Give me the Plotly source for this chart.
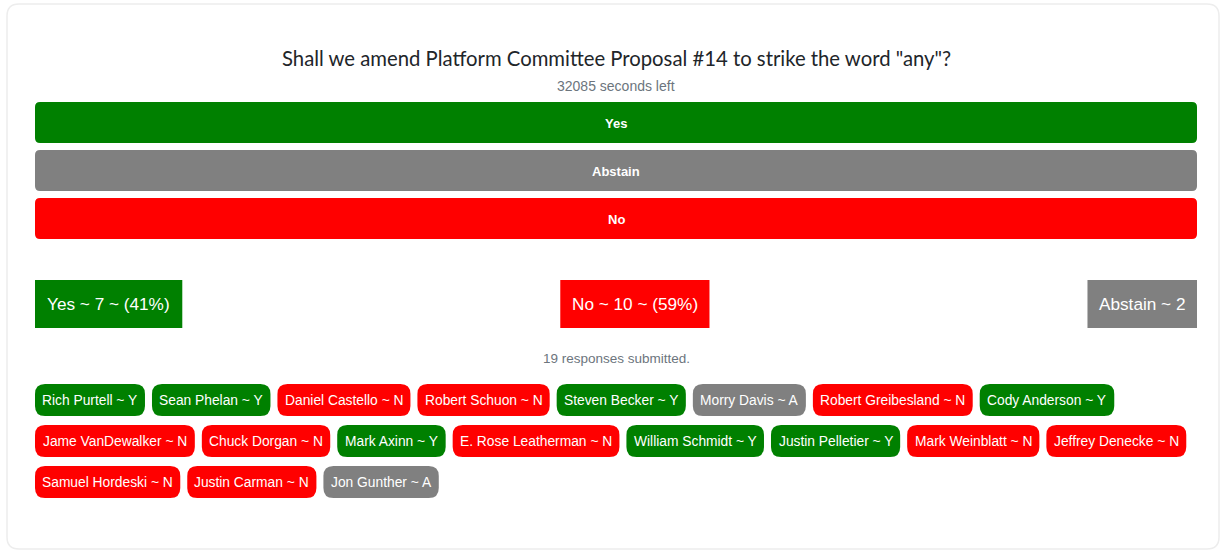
import plotly.graph_objects as go

# ---------------- data ----------------
question = 'Shall we amend Platform Committee Proposal #14 to strike the word "any"?'
seconds_left = 32085
option_labels = ["Yes", "Abstain", "No"]

tally_labels = ["Yes", "No", "Abstain"]
tally_counts = [7, 10, 2]
tally_show_pct = [True, True, False]

voter_names = [
    "Rich Purtell", "Sean Phelan", "Daniel Castello", "Robert Schuon",
    "Steven Becker", "Morry Davis", "Robert Greibesland", "Cody Anderson",
    "Jame VanDewalker", "Chuck Dorgan", "Mark Axinn", "E. Rose Leatherman",
    "William Schmidt", "Justin Pelletier", "Mark Weinblatt", "Jeffrey Denecke",
    "Samuel Hordeski", "Justin Carman", "Jon Gunther",
]
voter_votes = [
    "Y", "Y", "N", "N", "Y", "A", "N", "Y",
    "N", "N", "Y", "N", "Y", "Y", "N", "N",
    "N", "N", "A",
]

# ---------------- styles ----------------
W, H = 1223, 552
COLORS = {"Yes": "#008000", "Abstain": "#808080", "No": "#ff0000",
          "Y": "#008000", "A": "#808080", "N": "#ff0000"}
FONT = "Liberation Sans, Arial, sans-serif"
MUTED = "#6c757d"

# Arial / Liberation Sans advance widths (1/1000 em)
AW = {' ': 278, '!': 278, '"': 355, '#': 556, '%': 889, '(': 333, ')': 333,
      ',': 278, '-': 333, '.': 278, '~': 584, '?': 556,
      'A': 667, 'B': 667, 'C': 722, 'D': 722, 'E': 667, 'F': 611, 'G': 778,
      'H': 722, 'I': 278, 'J': 500, 'K': 667, 'L': 556, 'M': 833, 'N': 722,
      'O': 778, 'P': 667, 'Q': 778, 'R': 722, 'S': 667, 'T': 611, 'U': 722,
      'V': 667, 'W': 944, 'X': 667, 'Y': 667, 'Z': 611,
      'a': 556, 'b': 556, 'c': 500, 'd': 556, 'e': 556, 'f': 278, 'g': 556,
      'h': 556, 'i': 222, 'j': 222, 'k': 500, 'l': 222, 'm': 833, 'n': 556,
      'o': 556, 'p': 556, 'q': 556, 'r': 333, 's': 500, 't': 278, 'u': 556,
      'v': 500, 'w': 722, 'x': 500, 'y': 500, 'z': 500}


def text_w(s, size):
    return sum(AW.get(c, 556) for c in s) / 1000.0 * size


def rrect(x0, y0, x1, y1, r):
    return (f"M{x0 + r},{y0} L{x1 - r},{y0} Q{x1},{y0} {x1},{y0 + r} "
            f"L{x1},{y1 - r} Q{x1},{y1} {x1 - r},{y1} L{x0 + r},{y1} "
            f"Q{x0},{y1} {x0},{y1 - r} L{x0},{y0 + r} Q{x0},{y0} {x0 + r},{y0} Z")


LEFT, RIGHT = 35, 1197
shapes, annots = [], []

# card
shapes.append(dict(type="path", path=rrect(7, 4, 1219, 549, 12),
                   line=dict(color="#ededed", width=1.5), fillcolor="#ffffff",
                   layer="below"))

# title and timer
annots.append(dict(x=(LEFT + RIGHT) / 2, y=58, text=question, showarrow=False,
                   font=dict(family="Lato, sans-serif", size=20.3, color="#212529"),
                   xanchor="center", yanchor="middle"))
annots.append(dict(x=(LEFT + RIGHT) / 2, y=86, text=f"{seconds_left} seconds left",
                   showarrow=False, font=dict(family=FONT, size=14, color=MUTED),
                   xanchor="center", yanchor="middle"))

# option buttons
BTN_TOP, BTN_H, BTN_PITCH = 102, 41, 48
for i, lab in enumerate(option_labels):
    y0 = BTN_TOP + i * BTN_PITCH
    shapes.append(dict(type="path", path=rrect(LEFT, y0, RIGHT, y0 + BTN_H, 5),
                       line=dict(width=0), fillcolor=COLORS[lab]))
    annots.append(dict(x=(LEFT + RIGHT) / 2, y=y0 + BTN_H / 2 + 0.5, text=f"<b>{lab}</b>",
                       showarrow=False, font=dict(family=FONT, size=13, color="white"),
                       xanchor="center", yanchor="middle"))

# tally boxes (space-between)
total_yn = sum(c for c, p in zip(tally_counts, tally_show_pct) if p)
T_FS, T_PAD, T_TOP, T_H = 17.2, 11.5, 280, 48
t_texts = []
for lab, c, p in zip(tally_labels, tally_counts, tally_show_pct):
    if p:
        t_texts.append(f"{lab} ~ {c} ~ ({round(100 * c / total_yn)}%)")
    else:
        t_texts.append(f"{lab} ~ {c}")
t_widths = [text_w(t, T_FS) + 2 * T_PAD for t in t_texts]
gap = (RIGHT - LEFT - sum(t_widths)) / (len(t_widths) - 1)
x = LEFT
for lab, t, w in zip(tally_labels, t_texts, t_widths):
    shapes.append(dict(type="rect", x0=x, x1=x + w, y0=T_TOP, y1=T_TOP + T_H,
                       line=dict(width=0), fillcolor=COLORS[lab]))
    annots.append(dict(x=x + w / 2, y=T_TOP + T_H / 2, text=t, showarrow=False,
                       font=dict(family=FONT, size=T_FS, color="white"),
                       xanchor="center", yanchor="middle"))
    x += w + gap

annots.append(dict(x=(LEFT + RIGHT) / 2, y=358,
                   text=f"{len(voter_names)} responses submitted.", showarrow=False,
                   font=dict(family=FONT, size=13.5, color=MUTED),
                   xanchor="center", yanchor="middle"))

# voter pills (flow layout)
P_FS, P_PAD, P_GAP, P_TOP, P_H, P_PITCH = 13.8, 7.25, 7, 384, 32, 41
x, row = LEFT, 0
for name, v in zip(voter_names, voter_votes):
    label = f"{name} ~ {v}"
    w = text_w(label, P_FS) + 2 * P_PAD
    if x + w > RIGHT + 0.5 and x > LEFT:
        row += 1
        x = LEFT
    y0 = P_TOP + row * P_PITCH
    shapes.append(dict(type="path", path=rrect(x, y0, x + w, y0 + P_H, 10),
                       line=dict(width=0), fillcolor=COLORS[v]))
    annots.append(dict(x=x + w / 2, y=y0 + P_H / 2, text=label, showarrow=False,
                       font=dict(family=FONT, size=P_FS, color="white"),
                       xanchor="center", yanchor="middle"))
    x += w + P_GAP

fig = go.Figure()
fig.update_layout(
    width=W, height=H, margin=dict(l=0, r=0, t=0, b=0),
    paper_bgcolor="white", plot_bgcolor="white",
    xaxis=dict(range=[0, W], visible=False, fixedrange=True),
    yaxis=dict(range=[H, 0], visible=False, fixedrange=True),
    shapes=shapes, annotations=annots, showlegend=False,
)
fig.write_html("out.html", config={"displayModeBar": False},
               post_script="document.body.style.margin='0';document.body.style.overflow='hidden';")
